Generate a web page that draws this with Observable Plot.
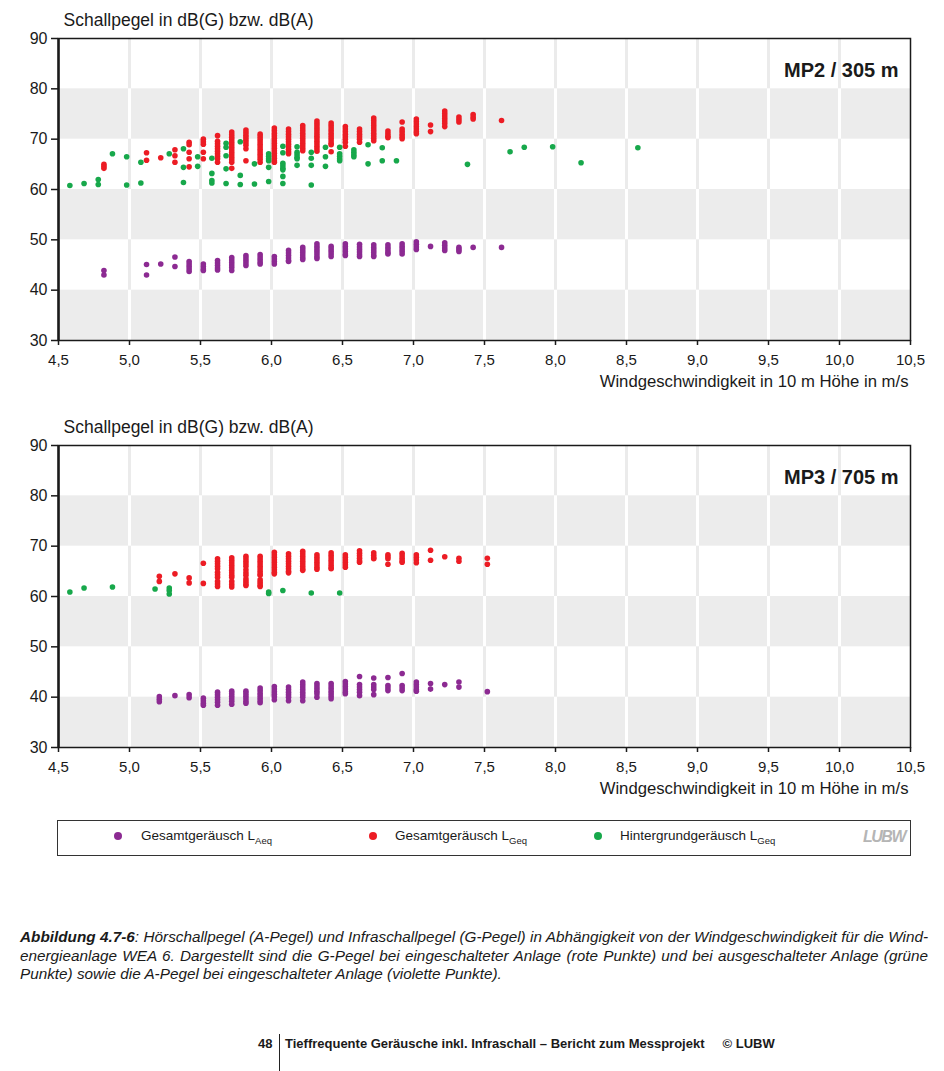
<!DOCTYPE html>
<html><head><meta charset="utf-8">
<script src="https://cdn.jsdelivr.net/npm/d3@7"></script>
<script src="https://cdn.jsdelivr.net/npm/@observablehq/plot@0.6"></script>
<style>
body{margin:0;background:#fff;font-family:"Liberation Sans",Arial,sans-serif;color:#1a1a1a;}
#page{position:relative;width:944px;height:1071px;overflow:hidden;background:#fff;}
.chart{position:absolute;left:0;width:944px;}
#legend{position:absolute;left:57px;top:820px;width:852px;height:34px;border:1px solid #333;font-size:13.5px;}
.ld{position:absolute;width:8px;height:8px;border-radius:50%;top:11px;}
.lt{position:absolute;top:7px;white-space:nowrap;}
.lt sub{font-size:9.5px;vertical-align:-4px;line-height:0;}
#logo{position:absolute;left:805px;top:7px;font-size:16px;font-weight:bold;font-style:italic;color:#b5b5b5;letter-spacing:-1.5px;}
#caption{position:absolute;left:20px;top:928px;width:908px;font-size:15.3px;font-style:italic;line-height:18.5px;color:#1a1a1a;}
#caption div{text-align:justify;text-align-last:justify;white-space:nowrap;}
#caption div.last{text-align-last:left;}
.foot{position:absolute;top:1036px;font-size:13px;font-weight:bold;white-space:nowrap;}
#vline{position:absolute;left:279px;top:1034px;width:1px;height:37px;background:#222;}
</style></head><body><div id="page">
<div id="c1" class="chart" style="top:0"></div>
<div id="c2" class="chart" style="top:407px"></div>
<div id="legend">
  <div class="ld" style="left:56px;background:#8c2a92"></div>
  <div class="lt" style="left:83px">Gesamtgeräusch L<sub>Aeq</sub></div>
  <div class="ld" style="left:311px;background:#ec1c24"></div>
  <div class="lt" style="left:337px">Gesamtgeräusch L<sub>Geq</sub></div>
  <div class="ld" style="left:536px;background:#17a84b"></div>
  <div class="lt" style="left:562px">Hintergrundgeräusch L<sub>Geq</sub></div>
  <div id="logo">LUBW</div>
</div>
<div id="caption">
  <div><b>Abbildung 4.7-6</b>: Hörschallpegel (A-Pegel) und Infraschallpegel (G-Pegel) in Abhängigkeit von der Windgeschwindigkeit für die Wind-</div>
  <div>energieanlage WEA 6. Dargestellt sind die G-Pegel bei eingeschalteter Anlage (rote Punkte) und bei ausgeschalteter Anlage (grüne</div>
  <div class="last">Punkte) sowie die A-Pegel bei eingeschalteter Anlage (violette Punkte).</div>
</div>
<div class="foot" style="left:258px">48</div>
<div id="vline"></div>
<div class="foot" style="left:285px">Tieffrequente Geräusche inkl. Infraschall – Bericht zum Messprojekt<span style="margin-left:18px">© LUBW</span></div>
</div>
<script>
// ---- axes / labels ----
const xTicks = [4.5,5.0,5.5,6.0,6.5,7.0,7.5,8.0,8.5,9.0,9.5,10.0,10.5];
const yTicks = [30,40,50,60,70,80,90];
const grayBands = [[70,80],[50,60],[30,40]];
const yTitle = "Schallpegel in dB(G) bzw. dB(A)";
const xTitle = "Windgeschwindigkeit in 10 m Höhe in m/s";
const labelMP2 = "MP2 / 305 m";
const labelMP3 = "MP3 / 705 m";
const colorA = "#8c2a92", colorG = "#ec1c24", colorH = "#17a84b";

// ---- MP2 / 305 m : [wind speed, [levels]] ----
const mp2Red = [
 [4.82,[65.0,64.6,64.2]],
 [5.12,[67.3,65.8]],
 [5.22,[66.3]],
 [5.32,[67.9,66.7,65.4]],
 [5.42,[69.4,68.9,67.4,66.1,64.5]],
 [5.52,[70.0,69.5,69.0,67.4,66.1]],
 [5.62,[70.7,69.6,69.1,68.6,68.1,67.6,67.1,66.6,66.1,65.4]],
 [5.72,[71.4,70.9,70.4,69.9,69.4,68.9,68.4,67.9,67.4,66.9,66.4,65.9,65.4,64.2]],
 [5.82,[71.8,71.3,70.8,70.3,69.8,69.3,68.8,68.1,65.7]],
 [5.92,[71.0,70.5,70.0,69.5,69.0,68.5,68.0,67.5,67.0,66.5,66.0,65.4]],
 [6.02,[72.2,71.7,71.2,70.7,70.2,69.7,69.2,68.7,68.2,67.7,67.2,66.7,66.2,65.7,65.4]],
 [6.12,[72.0,71.5,71.0,70.5,70.0,69.5,69.0,68.5,68.0,67.5,67.1]],
 [6.22,[72.7,72.2,71.7,71.2,70.7,70.2,69.7,69.2,68.7,68.2,67.7]],
 [6.32,[73.6,73.1,72.6,72.1,71.6,71.1,70.6,70.1,69.6,69.1,68.6,68.1,67.6]],
 [6.42,[73.2,72.7,72.2,71.7,71.2,70.7,70.2,69.7,69.2,68.9,67.5]],
 [6.52,[72.5,72.0,71.5,71.0,70.5,70.0,69.4,68.6]],
 [6.62,[72.0,71.5,71.0,70.5,70.0,69.4]],
 [6.72,[74.2,73.7,73.2,72.7,72.2,71.7,71.2,70.7,70.2,69.7]],
 [6.82,[71.6,71.1,70.6,70.3]],
 [6.92,[73.4,72.0,71.5,71.0,70.5,70.1]],
 [7.02,[74.0,73.5,73.0,72.5,72.0,71.5,71.1]],
 [7.12,[72.8,71.5]],
 [7.22,[75.6,75.1,74.6,74.1,73.6,73.1,72.5]],
 [7.32,[74.4,73.9,73.4]],
 [7.42,[74.9,74.4,74.0]],
 [7.62,[73.7]]
];
const mp2Green = [
 [4.58,[60.8]],[4.68,[61.2]],[4.78,[62.0,61.0]],[4.88,[67.1]],[4.98,[66.5,60.9]],
 [5.08,[65.4,61.3]],[5.28,[67.1]],[5.38,[68.1,64.4,61.4]],[5.48,[66.5,64.6]],
 [5.58,[66.2,63.2,61.8,61.3]],[5.68,[69.2,68.4,66.7,64.1,61.2]],[5.78,[69.5,62.8,61.0]],
 [5.88,[65.1,61.1]],[5.98,[67.1,66.6,66.1,65.7,64.4,61.6]],
 [6.08,[68.6,67.3,65.2,64.7,64.2,63.9,62.6,61.2]],[6.18,[68.5,67.4,66.9,66.4,66.1,64.8]],
 [6.28,[67.4,66.2,64.8,60.9]],[6.38,[68.4,66.5,64.6]],[6.48,[68.4,67.1,66.6,66.1,65.7]],
 [6.58,[67.9,67.4,66.9,66.5]],[6.68,[68.9,65.1]],[6.78,[68.3,65.7]],[6.88,[65.7]],
 [7.38,[65.0]],[7.68,[67.5]],[7.78,[68.4]],[7.98,[68.5]],[8.18,[65.3]],[8.58,[68.3]]
];
const mp2Purple = [
 [4.82,[43.9,43.0]],[5.12,[45.1,43.0]],[5.22,[45.2]],[5.32,[46.6,44.7]],
 [5.42,[45.7,45.2,44.7,44.2,43.7]],[5.52,[45.2,44.7,44.2,43.9]],
 [5.62,[45.9,45.4,44.9,44.4,44.0]],[5.72,[46.5,46.0,45.5,45.0,44.5,43.9]],
 [5.82,[46.9,46.4,45.9,45.4,44.9]],[5.92,[47.1,46.6,46.1,45.6,45.2]],
 [6.02,[46.7,46.2,45.7,45.2]],[6.12,[47.9,47.4,46.9,46.4,45.9,45.7]],
 [6.22,[48.5,48.0,47.5,47.0,46.5,46.1]],[6.32,[49.2,48.7,48.2,47.7,47.2,46.7,46.3]],
 [6.42,[48.7,48.2,47.7,47.2,46.7]],[6.52,[49.2,48.7,48.2,47.7,47.2,46.9]],
 [6.62,[49.1,48.6,48.1,47.6,47.1,46.7]],[6.72,[49.0,48.5,48.0,47.5,47.0,46.7]],
 [6.82,[49.0,48.5,48.0,47.5,47.2]],[6.92,[49.2,48.7,48.2,47.7,47.2]],
 [7.02,[49.6,49.1,48.6,48.1]],[7.12,[48.7]],[7.22,[49.4,48.9,48.4,47.9]],
 [7.32,[48.5,48.1,47.7]],[7.42,[48.5]],[7.62,[48.5]]
];

// ---- MP3 / 705 m ----
const mp3Red = [
 [5.21,[64.0,63.0]],[5.32,[64.5]],[5.42,[63.7,62.7]],[5.52,[66.6,62.6]],
 [5.62,[67.5,67.0,66.5,66.0,65.5,64.8,64.3,63.8,63.0,62.5,62.0]],
 [5.72,[67.7,67.2,66.7,66.2,65.7,65.2,64.7,64.2,63.8,63.0,62.4,61.9]],
 [5.82,[68.0,67.5,67.0,66.5,66.0,65.3,64.7,64.2,63.5,63.0,62.5,62.2]],
 [5.92,[68.0,67.5,67.0,66.5,66.0,65.5,65.0,64.5,64.2,63.3,62.8,62.3,62.0]],
 [6.02,[68.8,68.3,67.8,67.3,66.8,66.3,65.8,65.3,64.8,64.5]],
 [6.12,[68.5,68.0,67.5,67.0,66.5,66.0,65.5,65.0,64.7]],
 [6.22,[69.0,68.5,68.0,67.5,67.0,66.5,66.0,65.5,65.2]],
 [6.32,[68.3,67.8,67.3,66.8,66.3,65.8,65.4]],
 [6.42,[68.7,68.2,67.7,67.2,66.7,66.2,65.7,65.5]],
 [6.52,[68.3,67.8,67.3,66.8,66.3,65.8]],
 [6.62,[69.1,68.6,68.1,67.6,67.1,66.8]],
 [6.72,[68.7,68.2,67.7,67.5]],
 [6.82,[68.3,67.9,67.5,66.4]],
 [6.92,[68.6,68.1,67.6,67.1,66.8]],
 [7.02,[68.3,67.8,67.3,66.7]],
 [7.12,[69.2,67.2]],[7.22,[67.9]],[7.32,[67.6,67.0]],[7.52,[67.6,66.4]]
];
const mp3Green = [
 [4.58,[60.9]],[4.68,[61.7]],[4.88,[61.9]],[5.18,[61.5]],[5.28,[61.7,61.2,60.5]],
 [5.98,[60.9,60.6]],[6.08,[61.2]],[6.28,[60.7]],[6.48,[60.7]]
];
const mp3Purple = [
 [5.21,[40.1,39.6,39.1]],[5.32,[40.3]],[5.42,[40.5,39.9]],[5.52,[39.8,39.3,38.8,38.4]],
 [5.62,[41.0,40.5,40.0,39.5,39.0,38.4]],[5.72,[41.2,40.7,40.2,39.7,39.2,38.6]],
 [5.82,[41.2,40.7,40.2,39.7,39.2,38.8]],[5.92,[41.8,41.3,40.8,40.3,39.8,39.3,38.9]],
 [6.02,[42.1,41.6,41.1,40.6,40.1,39.5]],[6.12,[42.0,41.5,41.0,40.5,40.0,39.3]],
 [6.22,[43.0,42.5,42.0,41.5,41.0,40.5,40.0,39.3]],[6.32,[42.7,42.2,41.7,41.2,40.7,40.0]],
 [6.42,[42.7,42.2,41.7,41.2,40.7,40.2,39.7]],[6.52,[43.1,42.6,42.1,41.6,41.1,40.7]],
 [6.62,[44.1,42.5,42.0,41.5,41.0,40.3]],[6.72,[43.8,42.5,42.0,41.5,40.5]],
 [6.82,[43.9,42.3,41.8,41.3]],[6.92,[44.7,42.3,41.8,41.3]],
 [7.02,[43.0,42.5,42.0,41.5,41.2]],[7.12,[42.7,41.6]],[7.22,[42.5]],
 [7.32,[43.0,42.0]],[7.52,[41.1]]
];

const flat = cols => cols.flatMap(([w, vs]) => vs.map(v => ({w, v})));
const fmt = d => d.toFixed(1).replace(".", ",");
const innerX = xTicks.slice(1, -1);
const bandRows = grayBands.map(([lo, hi]) => ({lo, hi}));
const gridInBands = d3.cross(innerX, bandRows).map(([x, b]) => ({x, lo: b.lo, hi: b.hi}));

function chart(red, green, purple, label) {
  return Plot.plot({
    width: 944, height: 400,
    marginLeft: 58, marginRight: 34, marginTop: 38, marginBottom: 60,
    x: {domain: [4.5, 10.5]},
    y: {domain: [30, 90]},
    style: {fontFamily: "'Liberation Sans', Arial, sans-serif", fontSize: "15px", color: "#1a1a1a", background: "transparent", overflow: "visible"},
    marks: [
      Plot.ruleX(innerX, {stroke: "#ebebeb", strokeWidth: 3}),
      Plot.rect(bandRows, {y1: "lo", y2: "hi", fill: "#ececec"}),
      Plot.ruleX(gridInBands, {x: "x", y1: "lo", y2: "hi", stroke: "#ffffff", strokeWidth: 3}),
      Plot.dot(flat(purple), {x: "w", y: "v", fill: colorA, r: 2.8}),
      Plot.dot(flat(red), {x: "w", y: "v", fill: colorG, r: 2.8}),
      Plot.dot(flat(green), {x: "w", y: "v", fill: colorH, r: 2.8}),
      Plot.frame({stroke: "#1a1a1a", strokeWidth: 1.5}),
      Plot.ruleX([4.5], {stroke: "#1a1a1a", strokeWidth: 2.5}),
      Plot.axisY({ticks: yTicks, tickSize: 7, tickPadding: 4, label: null, strokeWidth: 1.5, fontSize: 16}),
      Plot.axisX({ticks: xTicks, tickFormat: fmt, tickSize: 5, tickPadding: 9, label: null, strokeWidth: 1.5, fontSize: 15}),
      Plot.text([yTitle], {frameAnchor: "top-left", lineAnchor: "middle", dx: 5, dy: -18, textAnchor: "start", fontSize: 17.5}),
      Plot.text([label], {frameAnchor: "top-right", lineAnchor: "middle", dx: -12, dy: 32, textAnchor: "end", fontWeight: "bold", fontSize: 20}),
      Plot.text([xTitle], {frameAnchor: "bottom-right", lineAnchor: "middle", dx: -2, dy: 41, textAnchor: "end", fontSize: 16.7})
    ]
  });
}
document.getElementById("c1").append(chart(mp2Red, mp2Green, mp2Purple, labelMP2));
document.getElementById("c2").append(chart(mp3Red, mp3Green, mp3Purple, labelMP3));
</script>
</body></html>
